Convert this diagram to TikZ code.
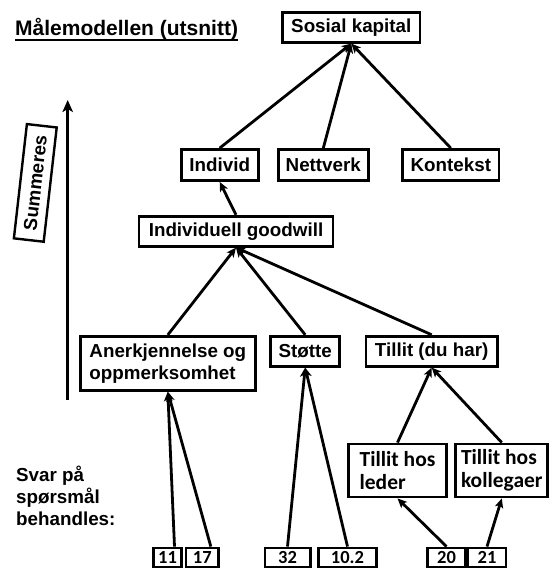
\documentclass[tikz,border=0pt]{standalone}
\usepackage{fontspec}
\setmainfont{Liberation Sans}
\newfontfamily\numfont{Carlito}
\usetikzlibrary{arrows.meta}

\begin{document}
\begin{tikzpicture}[x=1pt,y=-1pt,
  lbl/.style={font=\bfseries\fontsize{18.8}{22}\selectfont},
  box/.style={lbl, draw, line width=2.8pt, inner sep=0pt, align=center},
  multibox/.style={box, align=left},
  calbox/.style={multibox, font=\numfont\bfseries\fontsize{21.5}{22.5}\selectfont},
  numbox/.style={draw, line width=2.5pt, inner sep=0pt,
    font=\numfont\bfseries\fontsize{18.5}{22}\selectfont, minimum height=19pt},
  link/.style={line width=2.8pt, -{Stealth[length=9.5pt,width=8.5pt,inset=2.5pt]}},
]
\useasboundingbox (0,0) rectangle (552,570);

% heading
\node[anchor=base west, inner sep=0pt, font=\bfseries\fontsize{21}{24}\selectfont]
  (title) at (15,35) {Målemodellen (utsnitt)};
\draw[line width=2pt] ([yshift=-4.5pt]title.base west) -- ([yshift=-4.5pt]title.base east);

% summation direction
\node[box, line width=2.4pt, rotate=83.5, minimum width=115pt, minimum height=30pt]
  (summeres) at (35.3,182.9) {Summeres};
\coordinate (sumbase) at (67.7,400);
\coordinate (sumtip) at (67.7,100);
\draw[line width=2.5pt, -{Stealth[length=12pt,width=10.5pt,inset=3pt]}] (sumbase) -- (sumtip);

% concept boxes
\node[box, minimum width=137.5pt, minimum height=30pt] (sk) at (351.3,27.2) {Sosial kapital};
\node[box, minimum width=77pt, minimum height=31pt] (individ) at (219.7,165) {Individ};
\node[box, minimum width=90pt, minimum height=31pt] (nettverk) at (323.3,165) {Nettverk};
\node[box, minimum width=96.5pt, minimum height=31pt] (kontekst) at (450.8,165) {Kontekst};
\node[box, minimum width=194pt, minimum height=30pt] (goodwill) at (236,231.2) {Individuell goodwill};
\node[multibox, minimum width=175pt, minimum height=54pt] (anerk) at (167.8,363.3)
  {Anerkjennelse og\\oppmerksomhet};
\node[box, minimum width=69pt, minimum height=30pt] (stotte) at (305.2,351.2) {Støtte};
\node[box, minimum width=131.5pt, minimum height=30pt] (tillit) at (431.7,351.2) {Tillit (du har)};
\node[calbox, minimum width=98.5pt, minimum height=53pt] (leder) at (397.5,470.5) {Tillit hos\\leder};
\node[calbox, minimum width=92pt, minimum height=53pt] (kolleg) at (501.8,470.5) {Tillit hos\\kollegaer};

% question numbers
\node[numbox, minimum width=28pt] (n11) at (167.5,557.3) {11};
\node[numbox, minimum width=32.5pt] (n17) at (202.3,557.3) {17};
\node[numbox, minimum width=45.5pt] (n32) at (287.5,557.3) {32};
\node[numbox, minimum width=58pt] (n102) at (347.5,557.3) {10.2};
\node[numbox, minimum width=38pt] (n20) at (446.5,557.3) {20};
\node[numbox, minimum width=38pt] (n21) at (487,557.3) {21};

% side label
\node[lbl, anchor=north west, inner sep=0pt, align=left] (svar) at (16,466)
  {Svar på\\spørsmål\\behandles:};

% connectors
\draw[link] (individ.north) -- (sk.south);
\draw[link] (nettverk.north) -- (sk.south);
\draw[link] (kontekst.north) -- (sk.south);
\draw[link] (goodwill.north) -- (individ.south);
\draw[link] (anerk.north) -- (goodwill.south);
\draw[link] (stotte.north) -- (goodwill.south);
\draw[link] (tillit.north) -- (goodwill.south);
\draw[link] (leder.north) -- (tillit.south);
\draw[link] (kolleg.north) -- (tillit.south);
\draw[link] ([xshift=7pt]n11.north) -- (anerk.south);
\draw[link] ([xshift=8.5pt]n17.north) -- (anerk.south);
\draw[link] (n32.north) -- (stotte.south);
\draw[link] (n102.north) -- (stotte.south);
\draw[link] (n20.north) -- (leder.south);
\draw[link] (n21.north) -- (kolleg.south);
\end{tikzpicture}
\end{document}
